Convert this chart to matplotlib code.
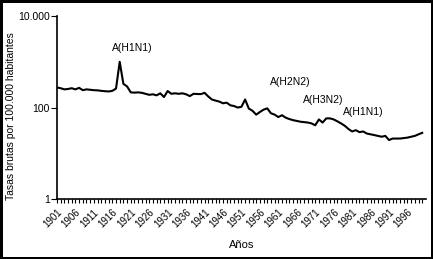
import matplotlib
matplotlib.use("Agg")
import matplotlib.pyplot as plt
import numpy as np

plt.rcParams['font.family'] = ['Liberation Sans', 'DejaVu Sans']

# crude rates per 100,000, one value per year
years = list(range(1901, 2001))
rates = [275, 265, 250, 255, 265, 250, 270, 240, 250, 245,
         240, 238, 232, 228, 225, 232, 260, 1000, 330, 290,
         215, 212, 215, 210, 200, 190, 195, 185, 205, 170,
         230, 200, 205, 200, 205, 195, 178, 200, 198, 197,
         210, 175, 150, 142, 135, 124, 128, 112, 108, 100,
         104, 150, 95, 85, 70, 80, 90, 96, 75, 70,
         62, 68, 60, 56, 53, 51, 49, 48, 47, 45,
         41, 55, 47, 58, 58, 55, 50, 45, 40, 34,
         30, 32, 29, 30, 27, 26, 25, 24, 23, 24,
         19.5, 21, 21, 21, 21.5, 22, 23, 24, 26, 28]

# pandemic labels: (text, year, value)
notes = [("A(H1N1)", 1921.4, 2000),
         ("A(H2N2)", 1964.3, 360),
         ("A(H3N2)", 1973.3, 146),
         ("A(H1N1)", 1983.9, 80)]

fig = plt.figure(figsize=(4.33, 2.59), dpi=100)
fig.patch.set_edgecolor('black')
fig.patch.set_linewidth(2.5)
ax = fig.add_axes([0.1316, 0.2317, 0.852, 0.706])

ax.plot(years, rates, color='black', lw=1.5)
ax.set_yscale('log')
ax.set_ylim(1, 10000)
ax.set_xlim(1901, 2001)

ax.set_yticks([1, 100, 10000])
ax.set_yticklabels(['1', '100', '10.000'])
ax.yaxis.set_minor_locator(matplotlib.ticker.NullLocator())
ax.set_xticks(years)
ax.set_xticklabels([str(y) if (y - 1901) % 5 == 0 else '' for y in years],
                   rotation=45, ha='right', rotation_mode='anchor')
ax.tick_params(axis='x', length=3, width=0.8, labelsize=7, pad=3)
ax.tick_params(axis='y', length=4, width=0.8, labelsize=7.5, pad=1)

for s in ['top', 'right']:
    ax.spines[s].set_visible(False)
for s in ['left', 'bottom']:
    ax.spines[s].set_linewidth(1.2)

for txt, x, y in notes:
    ax.text(x, y, txt, ha='center', va='center', fontsize=7.5)

# y title sits a bit lower than the axes centre in the original
fig.text(11 / 433, 0.55, 'Tasas brutas por 100.000 habitantes', rotation=90,
         ha='center', va='center', fontsize=7.5)
ax.set_xlabel('Años', fontsize=8, labelpad=7)

fig.savefig('out.png', dpi=100)
